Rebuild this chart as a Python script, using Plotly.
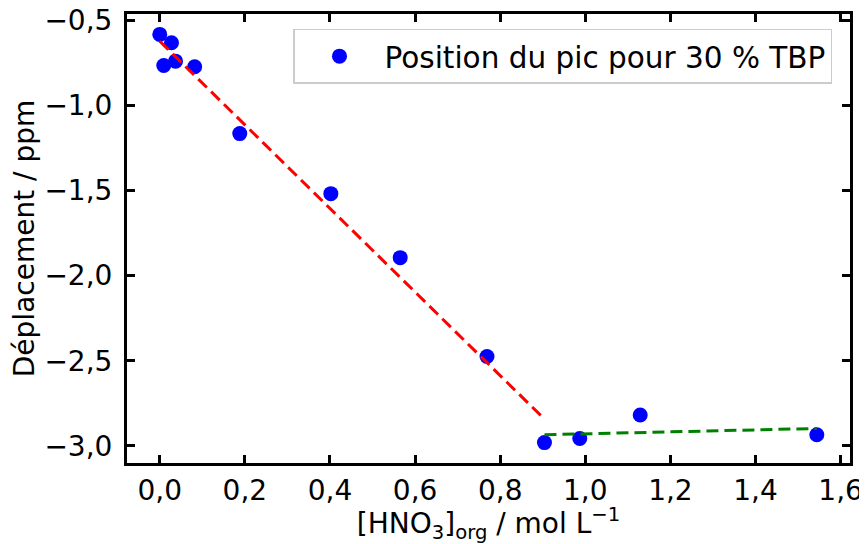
import plotly.graph_objects as go

# Data
hno3_org = [0.0, 0.0275, 0.0094, 0.037, 0.082, 0.188, 0.402, 0.565, 0.769, 0.904, 0.987, 1.129, 1.544]
shift_ppm = [-0.582, -0.631, -0.765, -0.739, -0.772, -1.165, -1.518, -1.894, -2.475, -2.981, -2.957, -2.819, -2.935]

fit1_x = [0.0, 0.904]
fit1_y = [-0.622, -2.843]
fit2_x = [0.904, 1.544]
fit2_y = [-2.935, -2.898]

x_ticks = [0.0, 0.2, 0.4, 0.6, 0.8, 1.0, 1.2, 1.4, 1.6]
y_ticks = [-3.0, -2.5, -2.0, -1.5, -1.0, -0.5]

FONT = "DejaVu Sans"

fig = go.Figure()
fig.add_trace(go.Scatter(
    x=hno3_org, y=shift_ppm, mode="markers",
    marker=dict(color="#0000ff", size=15),
    name="Position du pic pour 30 % TBP",
))
fig.add_trace(go.Scatter(
    x=fit1_x, y=fit1_y, mode="lines",
    line=dict(color="#ff0000", width=3, dash="12px,6px"),
    showlegend=False,
))
fig.add_trace(go.Scatter(
    x=fit2_x, y=fit2_y, mode="lines",
    line=dict(color="#008000", width=3, dash="12px,6px"),
    showlegend=False,
))

axis_common = dict(
    showline=True, linecolor="black", linewidth=3, mirror="allticks",
    ticks="inside", ticklen=8, tickwidth=2.5, tickcolor="black",
    showgrid=False, zeroline=False, automargin=False,
    tickfont=dict(family=FONT, size=28, color="black"),
    tickformat=".1f", ticklabeloverflow="allow",
)

# the page body has an 8px margin, so the figure is sized 8px smaller
fig.update_layout(
    width=859, height=536,
    margin=dict(l=119, r=17, t=6, b=81, autoexpand=False),
    paper_bgcolor="white", plot_bgcolor="white",
    separators=", ",
    font=dict(family=FONT, size=28, color="black"),
    xaxis=dict(
        range=[-0.077, 1.622], tickvals=x_ticks,
        title=dict(text="[HNO<sub>3</sub>]<sub>org</sub> / mol L<sup>−1</sup>",
                   font=dict(family=FONT, size=28), standoff=0),
        ticklabelstandoff=0,
        **axis_common,
    ),
    yaxis=dict(
        range=[-3.101, -0.462], tickvals=y_ticks,
        title=dict(text="Déplacement / ppm", font=dict(family=FONT, size=28), standoff=6),
        ticklabelstandoff=6,
        **axis_common,
    ),
    legend=dict(
        x=0.2296, y=0.9666, xanchor="left", yanchor="top",
        bgcolor="white", bordercolor="#cccccc", borderwidth=1.5,
        font=dict(family=FONT, size=29.5, color="black"),
        itemwidth=80,
    ),
)

fig.write_html("out.html")
